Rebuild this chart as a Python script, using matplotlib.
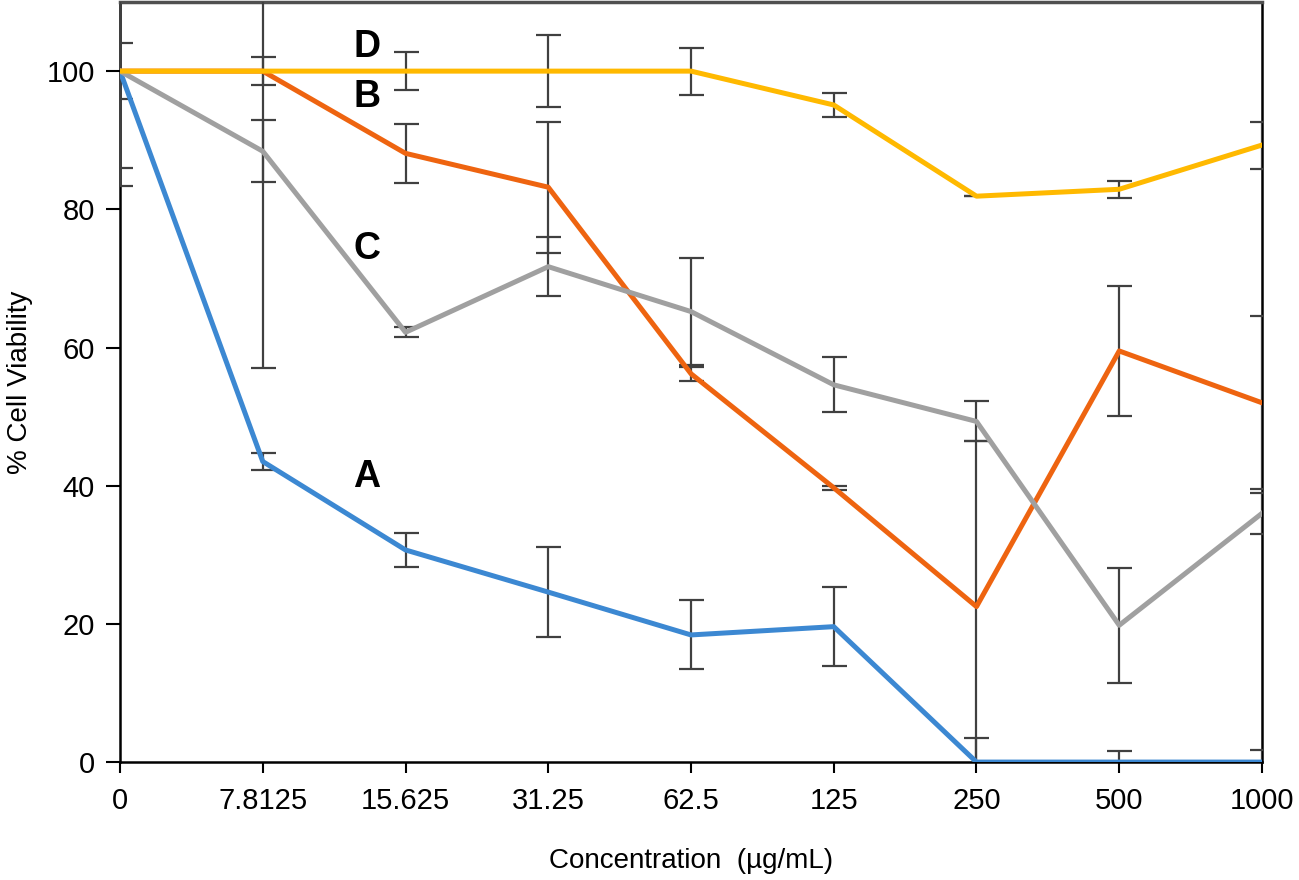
import matplotlib
matplotlib.use('Agg')
import matplotlib.pyplot as plt
import numpy as np

plt.rcParams['font.family'] = ['Liberation Sans', 'DejaVu Sans']

# concentrations (categorical x axis)
conc = ['0', '7.8125', '15.625', '31.25', '62.5', '125', '250', '500', '1000']

# % cell viability
a_vals = [100, 43.5, 30.7, 24.6, 18.4, 19.6, 0, 0, 0]
a_err = [16.6, 1.2, 2.4, 6.5, 5.0, 5.7, 3.5, 1.6, 1.7]
b_vals = [100, 100, 88.1, 83.2, 56.2, 39.7, 22.5, 59.5, 52.0]
b_err = [14.0, 43.0, 4.3, 9.5, 1.0, 0.3, 24.0, 9.4, 12.5]
c_vals = [100, 88.4, 62.2, 71.7, 65.2, 54.6, 49.3, 19.8, 36.0]
c_err = [4.0, 4.5, 0.7, 4.3, 7.8, 4.0, 2.9, 8.3, 3.0]
d_vals = [100, 100, 100, 100, 100, 95.1, 81.9, 82.9, 89.3]
d_err = [0.0, 2.0, 2.8, 5.2, 3.4, 1.8, 0.0, 1.2, 3.4]

series = [('A', a_vals, a_err, '#3C88D2'),
          ('B', b_vals, b_err, '#EE6410'),
          ('C', c_vals, c_err, '#A0A0A0'),
          ('D', d_vals, d_err, '#FFB900')]

fig = plt.figure(figsize=(12.99, 8.8), dpi=100)
ax = fig.add_axes([0.0924, 0.134, 0.8791, 0.8637])

x = np.arange(len(conc))
for k, (name, vals, err, col) in enumerate(series):
    ax.errorbar(x, vals, yerr=err, fmt='none', ecolor='#404040',
                elinewidth=1.6, capsize=9, capthick=1.6, zorder=3)
    ax.plot(x, vals, color=col, linewidth=3.6, zorder=4 + k)

# letter labels next to the curves
lab_x = 1.73
lab_y = {'D': 103.5, 'B': 96.2, 'C': 74.2, 'A': 41.2}
for name, yy in lab_y.items():
    ax.text(lab_x, yy, name, fontsize=27, fontweight='bold',
            ha='center', va='center', zorder=10)

ax.set_xlim(0, len(conc) - 1)
ax.set_ylim(0, 110)
ax.set_xticks(x)
ax.set_xticklabels(conc)
ax.set_yticks(np.arange(0, 101, 20))
ax.tick_params(axis='both', labelsize=21, direction='out', width=1.5,
               colors='black')
ax.tick_params(axis='y', length=10, pad=8)
ax.tick_params(axis='x', length=8, pad=10)

for side in ['left', 'bottom', 'right']:
    ax.spines[side].set_color('black')
    ax.spines[side].set_linewidth(1.8)
ax.spines['top'].set_color('#505050')
ax.spines['top'].set_linewidth(2.5)

ax.set_xlabel('Concentration  (µg/mL)', fontsize=20, labelpad=24)
ax.set_ylabel('% Cell Viability', fontsize=20, labelpad=10)

fig.savefig('out.png', dpi=100)
